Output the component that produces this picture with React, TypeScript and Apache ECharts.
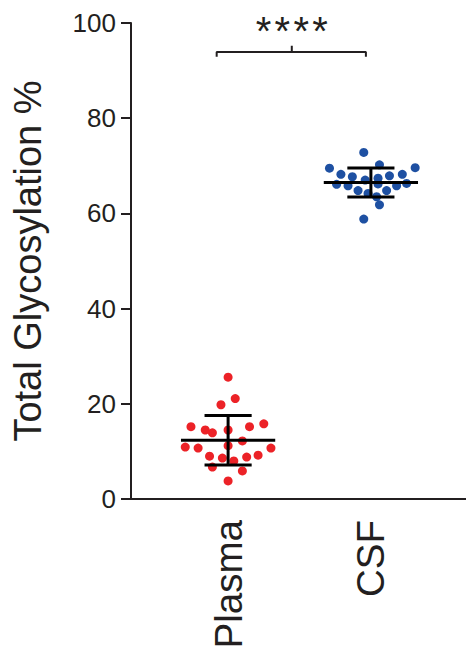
import React, { useEffect, useRef } from "react";
import * as echarts from "echarts";

const categories = ["Plasma", "CSF"];
const yTicks = [0, 20, 40, 60, 80, 100];

const plasmaValues = [25.6, 21.1, 19.8, 15.2, 14.5, 13.9, 14.5, 15.2, 15.8, 12.2, 11.2, 10.9, 10.7, 10.7, 9.2, 8.8, 9.0, 8.6, 8.0, 6.7, 5.9, 3.8];
const plasmaJitter = [0, 0.05, -0.05, -0.26, -0.16, -0.11, 0, 0.15, 0.25, 0.1, 0, -0.3, -0.21, 0.3, 0.21, 0.13, -0.13, -0.04, 0.04, -0.11, 0.1, 0];

const csfValues = [72.8, 69.5, 70.2, 69.6, 68.2, 67.7, 67.9, 68.2, 67.0, 67.4, 66.3, 66.1, 65.8, 65.8, 64.8, 64.2, 64.8, 63.5, 61.8, 58.8, 66.2];
const csfJitter = [-0.05, -0.29, 0.06, 0.31, -0.21, -0.13, 0.13, 0.22, -0.04, 0.05, 0.25, -0.24, -0.16, 0.18, -0.09, -0.02, 0.11, 0.04, 0.06, -0.05, 0.05];

const significance = "*\u200A*\u200A*\u200A*";
const bracket = [
  [0.92, 92.9],
  [0.92, 93.9],
  [1.446, 93.9],
  [1.446, 95.2],
  [1.446, 93.9],
  [1.965, 93.9],
  [1.965, 92.9],
];
const starsAt = [1.446, 98.3];

function meanSd(v: number[]) {
  const m = v.reduce((a, b) => a + b, 0) / v.length;
  const sd = Math.sqrt(v.reduce((a, b) => a + (b - m) * (b - m), 0) / (v.length - 1));
  return [m, sd];
}

const INK = "#231f20";
const FONT = "Liberation Sans, Arial, Helvetica, sans-serif";

export default function App() {
  const ref = useRef<HTMLDivElement>(null);
  useEffect(() => {
    if (!ref.current) return;
    const chart = echarts.init(ref.current, undefined, { renderer: "svg" });
    const groups = [
      { x: 1, values: plasmaValues, jitter: plasmaJitter, color: "#ec2227" },
      { x: 2, values: csfValues, jitter: csfJitter, color: "#1e50a2" },
    ];
    const stats = groups.map((g) => {
      const [m, sd] = meanSd(g.values);
      return [g.x, m, sd];
    });
    chart.setOption({
      animation: false,
      grid: {
        left: 131,
        right: 0,
        top: 23,
        bottom: 152,
        containLabel: false,
        outerBoundsMode: "none",
      },
      xAxis: {
        type: "value",
        min: 0.32,
        max: 2.666,
        splitLine: { show: false },
        axisLine: { show: true, onZero: false, lineStyle: { color: INK, width: 2 } },
        axisTick: { show: false },
        axisLabel: {
          customValues: [1, 2],
          formatter: (v: number) => categories[Math.round(v) - 1] ?? "",
          rotate: 90,
          margin: 21,
          fontSize: 38.5,
          color: INK,
          fontFamily: FONT,
        },
      },
      yAxis: {
        type: "value",
        min: 0,
        max: 100,
        interval: 20,
        splitLine: { show: false },
        axisLine: { show: true, lineStyle: { color: INK, width: 2 } },
        axisTick: { show: true, length: 10, lineStyle: { color: INK, width: 2 } },
        axisLabel: {
          customValues: yTicks,
          margin: 15,
          fontSize: 26,
          color: INK,
          fontFamily: FONT,
        },
        name: "Total Glycosylation %",
        nameLocation: "middle",
        nameGap: 84,
        nameTextStyle: { fontSize: 38, color: INK, fontFamily: FONT },
      },
      series: [
        ...groups.map((g) => ({
          type: "scatter",
          symbol: "circle",
          symbolSize: 9,
          itemStyle: { color: g.color, opacity: 1 },
          data: g.values.map((v, i) => [g.x + g.jitter[i], v]),
          z: 2,
        })),
        {
          type: "custom",
          z: 5,
          data: stats,
          renderItem: (params: any, api: any) => {
            const x = api.value(0);
            const m = api.value(1);
            const sd = api.value(2);
            const style = { stroke: "#000", lineWidth: 3 };
            const p = (a: number, b: number) => api.coord([a, b]);
            const seg = (a: number[], b: number[]) => ({
              type: "line",
              shape: { x1: a[0], y1: a[1], x2: b[0], y2: b[1] },
              style,
            });
            return {
              type: "group",
              children: [
                seg(p(x - 0.33, m), p(x + 0.33, m)),
                seg(p(x - 0.165, m + sd), p(x + 0.165, m + sd)),
                seg(p(x - 0.165, m - sd), p(x + 0.165, m - sd)),
                seg(p(x, m - sd), p(x, m + sd)),
              ],
            };
          },
        },
        {
          type: "line",
          data: bracket,
          symbol: "none",
          lineStyle: { color: INK, width: 2 },
          z: 3,
          markPoint: {
            symbol: "rect",
            symbolSize: 0,
            data: [{ coord: starsAt, value: significance }],
            label: {
              show: true,
              position: "inside",
              formatter: significance,
              fontSize: 40,
              color: INK,
              fontFamily: FONT,
            },
          },
        },
      ],
    });
    return () => chart.dispose();
  }, []);
  return (
    <div
      ref={ref}
      style={{ position: "fixed", left: 0, top: 0, width: 466, height: 651, background: "#fff" }}
    />
  );
}
